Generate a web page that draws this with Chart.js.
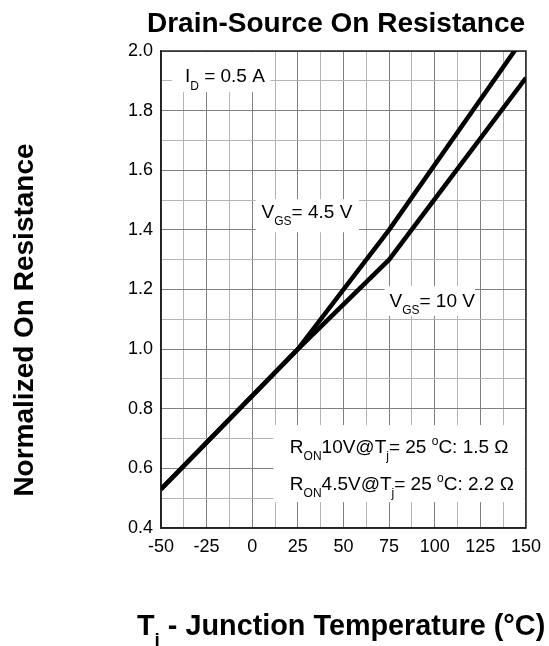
<!DOCTYPE html>
<html>
<head>
<meta charset="utf-8">
<script src="https://cdn.jsdelivr.net/npm/chart.js@4.4.1/dist/chart.umd.min.js"></script>
<style>
  body { margin: 0; background: #fff; }
  canvas { display: block; }
</style>
</head>
<body>
<canvas id="ronChart" width="549" height="646"></canvas>
<script>
// junction temperature (°C) and normalized R_DS(on) for both gate drives
const temps = [-50, 25, 75, 150];
const ronVgs45 = [0.53, 1.0, 1.4, 2.055];
const ronVgs10 = [0.53, 1.0, 1.3, 1.91];

const xTicks = ['-50', '-25', '0', '25', '50', '75', '100', '125', '150'];
const yTicks = ['0.4', '0.6', '0.8', '1.0', '1.2', '1.4', '1.6', '1.8', '2.0'];

const FONT = "'Liberation Sans', Arial, sans-serif";

function toPoints(xs, ys) {
    return xs.map((x, i) => ({ x: x, y: ys[i] }));
}

// draws a run of text pieces, some of them lowered (sub) or raised (sup)
function drawRich(ctx, x, y, parts, size, subSize, weight) {
    let cx = x;
    parts.forEach(p => {
        const small = p.sub || p.sup;
        ctx.font = (weight || '') + ' ' + (small ? subSize : size) + 'px ' + FONT;
        let dy = 0;
        if (p.sub) dy = size * 0.38;
        if (p.sup) dy = -size * 0.42;
        ctx.fillText(p.t, cx, y + dy);
        cx += ctx.measureText(p.t).width;
    });
}

// white label boxes, given in data units
const labels = [
    { box: [-44, 10, 1.996, 1.862], at: [-36.9, 1.895],
      parts: [{ t: 'I' }, { t: 'D', sub: true }, { t: ' = 0.5 A' }] },
    { box: [1.9, 58.5, 1.503, 1.392], at: [5.1, 1.439],
      parts: [{ t: 'V' }, { t: 'GS', sub: true }, { t: '= 4.5 V' }] },
    { box: [72.5, 122.1, 1.211, 1.111], at: [75.2, 1.142],
      parts: [{ t: 'V' }, { t: 'GS', sub: true }, { t: '= 10 V' }] },
    { box: [11.6, 149.2, 0.745, 0.487], at: [20.6, 0.651],
      parts: [{ t: 'R' }, { t: 'ON', sub: true }, { t: '10V@T' }, { t: 'j', sub: true },
              { t: '= 25 ' }, { t: 'o', sup: true }, { t: 'C: 1.5 \u03A9' }] },
    { box: null, at: [20.6, 0.527],
      parts: [{ t: 'R' }, { t: 'ON', sub: true }, { t: '4.5V@T' }, { t: 'j', sub: true },
              { t: '= 25 ' }, { t: 'o', sup: true }, { t: 'C: 2.2 \u03A9' }] }
];

const annotate = {
    id: 'annotate',
    beforeDatasetsDraw(chart) {
        const ctx = chart.ctx;
        const xs = chart.scales.x, ys = chart.scales.y;
        const area = chart.chartArea;
        ctx.save();
        labels.forEach(l => {
            if (!l.box) return;
            const x0 = xs.getPixelForValue(l.box[0]);
            const x1 = xs.getPixelForValue(l.box[1]);
            const y0 = ys.getPixelForValue(l.box[2]);
            const y1 = ys.getPixelForValue(l.box[3]);
            ctx.fillStyle = '#fff';
            ctx.fillRect(x0, y0, x1 - x0, y1 - y0);
        });
        ctx.fillStyle = '#000';
        ctx.textBaseline = 'alphabetic';
        ctx.textAlign = 'left';
        labels.forEach(l => {
            drawRich(ctx, xs.getPixelForValue(l.at[0]), ys.getPixelForValue(l.at[1]), l.parts, 19, 12);
        });
        // frame around the plot
        ctx.strokeStyle = '#222';
        ctx.lineWidth = 1.5;
        ctx.strokeRect(area.left, area.top, area.right - area.left, area.bottom - area.top);
        ctx.restore();
    },
    afterDraw(chart) {
        const ctx = chart.ctx;
        ctx.save();
        ctx.fillStyle = '#000';
        ctx.textBaseline = 'alphabetic';
        ctx.font = 'bold 28px ' + FONT;
        ctx.textAlign = 'center';
        ctx.fillText('Drain-Source On Resistance', 336, 32);

        ctx.save();
        ctx.translate(33, 320);
        ctx.rotate(-Math.PI / 2);
        ctx.fillText('Normalized On Resistance', 0, 0);
        ctx.restore();

        ctx.textAlign = 'left';
        drawRich(ctx, 137, 635, [{ t: 'T' }, { t: 'j', sub: true }, { t: ' - Junction Temperature (\u00B0C)' }], 28.8, 19, 'bold');
        ctx.restore();
    }
};

function gridColor(c, major) {
    if (!c.tick) return '#b0b0b0';
    return major(c.tick.value) ? '#808080' : '#b4b4b4';
}

const isMajorX = v => Math.abs(v % 25) < 1e-6;
const isMajorY = v => Math.round(v * 10) % 2 === 0;

new Chart(document.getElementById('ronChart'), {
    type: 'line',
    data: {
        datasets: [
            {
                label: 'VGS = 4.5 V',
                data: toPoints(temps, ronVgs45),
                borderColor: '#000',
                borderWidth: 4.5,
                pointRadius: 0,
                tension: 0,
                clip: 0
            },
            {
                label: 'VGS = 10 V',
                data: toPoints(temps, ronVgs10),
                borderColor: '#000',
                borderWidth: 4.5,
                pointRadius: 0,
                tension: 0,
                clip: 0
            }
        ]
    },
    plugins: [annotate],
    options: {
        responsive: false,
        animation: false,
        events: [],
        layout: { padding: { top: 51, right: 17, left: 0, bottom: 0 } },
        plugins: {
            legend: { display: false },
            tooltip: { enabled: false }
        },
        scales: {
            x: {
                type: 'linear',
                min: -50,
                max: 150,
                afterFit: s => { s.height = 118; },
                border: { color: '#222', width: 1.5 },
                grid: { color: c => gridColor(c, isMajorX), lineWidth: 1, drawTicks: false },
                ticks: {
                    stepSize: 12.5,
                    autoSkip: false,
                    maxRotation: 0,
                    padding: 8,
                    color: '#000',
                    font: { family: FONT, size: 18 },
                    callback: v => isMajorX(v) ? xTicks[Math.round((v + 50) / 25)] : ''
                }
            },
            y: {
                min: 0.4,
                max: 2.0,
                afterFit: s => { s.width = 161; },
                border: { color: '#222', width: 1.5 },
                grid: { color: c => gridColor(c, isMajorY), lineWidth: 1, drawTicks: false },
                ticks: {
                    stepSize: 0.1,
                    autoSkip: false,
                    padding: 8,
                    color: '#000',
                    font: { family: FONT, size: 18 },
                    callback: v => isMajorY(v) ? yTicks[Math.round((v - 0.4) / 0.2)] : ''
                }
            }
        }
    }
});
</script>
</body>
</html>
